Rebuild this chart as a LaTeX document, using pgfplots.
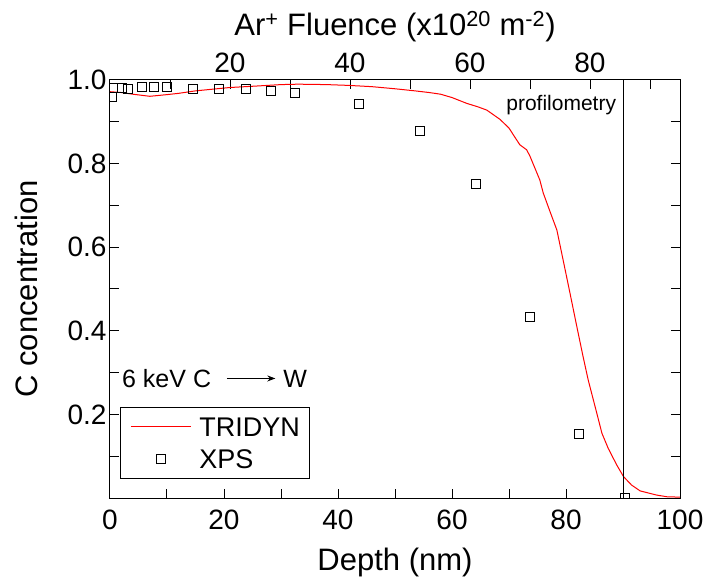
\documentclass[border=0pt]{standalone}
\usepackage{fontspec}
\setmainfont{Liberation Sans}
\usepackage{pgfplots}
\pgfplotsset{compat=1.18}
\usetikzlibrary{arrows.meta}

\newcommand\tickfont{\fontsize{28}{32}\selectfont}
\newcommand\labfont{\fontsize{31}{36}\selectfont}

\pgfplotsset{
  longline legend/.style={legend image code/.code={\draw[##1] (0pt,0pt) -- (60pt,0pt);}},
  centermark legend/.style={legend image code/.code={\draw[mark repeat=2, mark phase=2, ##1] plot coordinates {(0pt,0pt) (30pt,0pt) (60pt,0pt)};}},
}

\pgfplotstableread{
depth conc
0    0.972
2    0.970
4    0.966
7    0.961
10   0.965
12   0.968
15   0.974
18   0.978
21   0.982
25   0.985
30   0.989
33   0.990
38   0.989
42   0.987
46   0.984
50   0.979
53.5 0.974
56   0.970
58   0.966
60   0.958
62.6 0.944
64.5 0.936
66.1 0.928
68.4 0.906
70   0.885
70.8 0.868
71.9 0.845
73.1 0.833
73.7 0.817
75.4 0.761
76.0 0.730
77.2 0.685
78.4 0.641
79.5 0.569
80.7 0.490
81.9 0.410
83.0 0.338
83.9 0.282
85.4 0.203
86.3 0.155
87.4 0.119
88.9 0.079
90.1 0.051
91.5 0.031
93.0 0.017
95.9 0.007
97.7 0.003
100  0.002
}\tridyn

\pgfplotstableread{
depth conc
-0.2 0.864
0.3  0.960
0.6  0.982
2.1  0.980
3.2  0.978
5.6  0.984
7.7  0.983
10.0 0.983
14.6 0.979
19.1 0.978
23.9 0.978
28.2 0.974
32.5 0.968
43.7 0.942
54.4 0.878
64.2 0.750
73.6 0.434
82.2 0.152
90.4 0.000
}\xps

\begin{document}
\begin{tikzpicture}
\useasboundingbox (-110pt,-88pt) rectangle (596pt,498pt);
% top axis: fluence
\begin{axis}[
  at={(0,0)}, anchor=south west,
  scale only axis, width=570pt, height=418pt,
  xmin=0, xmax=95, ymin=0, ymax=1,
  axis x line*=top, hide y axis,
  xtick={20,40,60,80}, minor xtick={10,30,50,70,90},
  tick align=inside,
  major tick length=9pt, minor tick length=9pt,
  every tick/.style={line width=1pt, black},
  axis line style={line width=1pt},
  ticklabel style={font=\tickfont},
  xticklabel style={yshift=4pt},
  /pgf/number format/assume math mode=true,
  xlabel={Ar\textsuperscript{+} Fluence (x10\textsuperscript{20} m\textsuperscript{-2})},
  xlabel style={font=\labfont, yshift=4pt},
]
\end{axis}
% main axis: depth
\begin{axis}[
  at={(0,0)}, anchor=south west,
  scale only axis, width=570pt, height=418pt,
  xmin=0, xmax=100, ymin=0, ymax=1,
  xtick={0,20,...,100}, minor xtick={10,30,...,90},
  ytick={0.2,0.4,0.6,0.8,1.0}, minor ytick={0.1,0.3,0.5,0.7,0.9},
  xtick pos=left, ytick pos=both, yticklabel pos=left,
  tick align=inside,
  major tick length=9pt, minor tick length=9pt,
  every tick/.style={line width=1pt, black},
  axis line style={line width=1pt},
  ticklabel style={font=\tickfont},
  xticklabel style={yshift=-8pt},
  /pgf/number format/assume math mode=true,
  yticklabel style={/pgf/number format/fixed, /pgf/number format/fixed zerofill, /pgf/number format/precision=1},
  xlabel={Depth (nm)}, ylabel={C concentration},
  label style={font=\labfont},
  xlabel style={yshift=-12pt},
  ylabel style={yshift=23pt},
  clip marker paths=true,
  legend style={at={(0.0175,0.0455)}, anchor=south west, draw=black, line width=1pt,
    font=\fontsize{27}{30}\selectfont, cells={anchor=west},
    nodes={inner sep=0pt, text height=19pt, text depth=0pt},
    inner xsep=10pt, inner ysep=10pt, row sep=13pt, column sep=8pt},
]
\addplot[red, line width=1pt, longline legend]
  table[x=depth, y=conc] {\tridyn};
\addlegendentry{TRIDYN}
\addplot[black, only marks, mark=square, mark size=4.5pt, mark options={line width=1pt}, centermark legend]
  table[x=depth, y=conc] {\xps};
\addlegendentry{XPS}
\addplot[black, line width=1pt, forget plot] coordinates {(90,0) (90,1)};
\node[anchor=base east, font=\fontsize{21}{24}\selectfont] at (axis cs:89.4,0.928) {profilometry};
\node[anchor=base west, font=\fontsize{25}{30}\selectfont, inner sep=0pt] at (axis cs:2.1,0.265) {6 keV C};
\draw[-{Stealth[length=8pt,width=6pt]}, line width=1pt] (axis cs:20.5,0.286) -- (axis cs:29,0.286);
\node[anchor=base west, font=\fontsize{25}{30}\selectfont, inner sep=0pt] at (axis cs:30.4,0.265) {W};
\end{axis}
\end{tikzpicture}
\end{document}
